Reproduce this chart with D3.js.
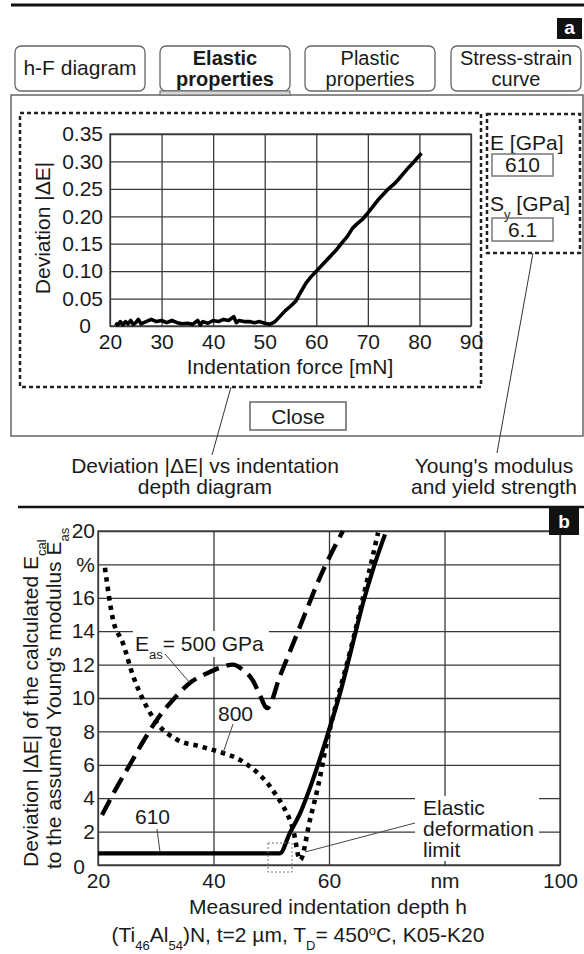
<!DOCTYPE html>
<html><head><meta charset="utf-8">
<script src="https://cdn.jsdelivr.net/npm/d3@7"></script>
<style>body{margin:0;background:#fff} text{font-family:"Liberation Sans",Arial,sans-serif;fill:#1a1a1a}</style>
</head><body><svg id="c" width="584" height="954"></svg>
<script>
// ---------- DATA ----------
// Panel a: deviation |ΔE| vs indentation force
const forceA = [21,21.5,22,22.5,23,23.5,24,24.5,25,25.5,26,27,28,29,30,31,32,33,34,35,36,37,37.5,38,39,40,41,42,43,44,44.5,45,46,47,48,49,50,51,52,53,54,55,56,57,58,59,60,61,62,63,64,65,66,67,68,69,70,71,72,73,74,75,76,77,78,79,80.4];
const devA   = [0.005,0.002,0.008,0.002,0.008,0.004,0.01,0.003,0.006,0.012,0.004,0.008,0.012,0.008,0.01,0.006,0.01,0.006,0.004,0.005,0.003,0.01,0.002,0.008,0.005,0.01,0.008,0.012,0.01,0.017,0.006,0.01,0.008,0.008,0.006,0.008,0.005,0.003,0.008,0.018,0.028,0.036,0.045,0.062,0.078,0.09,0.1,0.11,0.12,0.13,0.14,0.152,0.163,0.178,0.187,0.195,0.206,0.218,0.23,0.24,0.25,0.258,0.268,0.279,0.29,0.3,0.315];
const xTicksA = [20,30,40,50,60,70,80,90];
const yTicksA = [0,0.05,0.10,0.15,0.20,0.25,0.30,0.35];
const yTickLabelsA = ["0","0.05","0.10","0.15","0.20","0.25","0.30","0.35"];

// Panel b: deviation (%) vs measured indentation depth (nm)
const depth610 = [20,51.5,53.2,55,57.2,60.2,62,64,65.9,67.8,69.7];
const dev610   = [0.7,0.7,1.9,3.1,5.1,8.3,10.4,13.1,15.7,17.9,19.8];
const depth500 = [20.7,23,25.5,28,30.2,33,35.9,39,41,43.4,45,46.9,48,49.3,51.5,55,58.4,62.4];
const dev500   = [3.0,4.5,6.0,7.5,8.7,9.9,10.9,11.5,11.8,12.0,11.7,11.0,10.2,9.4,11.3,14.3,17.2,20];
const depth800 = [21.2,22.6,24.3,26.1,27.8,30.2,33.7,37.7,41.7,44,46.3,48,49.8,51,52.1,53.8,55,56.7,58.1,59.6,61.5,63.6,65.7,68.5];
const dev800   = [17.8,14.7,13.3,11.3,9.9,8.5,7.5,7.1,6.7,6.4,5.9,5.4,4.7,4.1,3.5,2.1,0.3,2.7,4.7,7.3,10,12.7,15.7,19.9];
const xTicksB = [20,40,60,80,100];
const xTickLabelsB = ["20","40","60","nm","100"];
const yTicksB = [0,2,4,6,8,10,12,14,16,18,20];
const yTickLabelsB = ["0","2","4","6","8","10","12","14","16","%","20"];

// ---------- DRAW ----------
const svg = d3.select("#c");
svg.append("rect").attr("width",584).attr("height",954).attr("fill","#fff");
const FS = 21;
function txt(x,y,s,opt={}){
  const t = svg.append("text").attr("x",x).attr("y",y).attr("font-size",opt.fs||FS)
    .attr("text-anchor",opt.anchor||"start");
  if(opt.bold) t.attr("font-weight","bold");
  if(opt.fill) t.style("fill",opt.fill);
  if(opt.rot) t.attr("transform",`rotate(${opt.rot},${x},${y})`);
  if(Array.isArray(s)){
    s.forEach(p=>{
      const ts=t.append("tspan").text(p.t);
      if(p.sub){ts.attr("font-size",(opt.fs||FS)*0.62).attr("baseline-shift","sub");}
      if(p.sup){ts.attr("font-size",(opt.fs||FS)*0.62).attr("baseline-shift","super");}
    });
  } else t.text(s);
  return t;
}
function line(x1,y1,x2,y2,w=1,c="#333",dash=null){
  const l=svg.append("line").attr("x1",x1).attr("y1",y1).attr("x2",x2).attr("y2",y2)
   .attr("stroke",c).attr("stroke-width",w);
  if(dash) l.attr("stroke-dasharray",dash);
  return l;
}
function rect(x,y,w,h,o={}){
  return svg.append("rect").attr("x",x).attr("y",y).attr("width",w).attr("height",h)
   .attr("fill",o.fill||"none").attr("stroke",o.stroke||"none").attr("stroke-width",o.sw||1)
   .attr("rx",o.rx||0).attr("stroke-dasharray",o.dash||null);
}

// ===== Panel a frame =====
line(11,5,584,5,3,"#111");
rect(557,18,25,21,{fill:"#111"});
txt(569.5,34,"a",{anchor:"middle",bold:true,fill:"#fff",fs:19});

const tabs=[{x:15,lines:["h-F diagram"]},{x:160,lines:["Elastic","properties"],bold:true},
            {x:305,lines:["Plastic","properties"]},{x:451,lines:["Stress-strain","curve"]}];
tabs.forEach(t=>{
  rect(t.x,46,130,45,{stroke:"#666",sw:1.3,rx:6,fill:"#fff"});
  if(t.lines.length===1) txt(t.x+65,75,t.lines[0],{anchor:"middle"});
  else { txt(t.x+65,65,t.lines[0],{anchor:"middle",bold:t.bold,fs:20}); txt(t.x+65,86,t.lines[1],{anchor:"middle",bold:t.bold,fs:20}); }
});
rect(11,95,572,341,{stroke:"#666",sw:1.5});
rect(160,91,130,4,{fill:"#d6d6d6",stroke:"#666",sw:1});

// chart a
const xA=d3.scaleLinear().domain([20,90]).range([110,471]);
const yA=d3.scaleLinear().domain([0,0.35]).range([326,134]);
function styleAxis(g){
  g.select(".domain").remove();
  g.selectAll(".tick line").attr("stroke","#3a3a3a").attr("stroke-width",1.3);
  g.selectAll("text").attr("font-size",FS).attr("font-family","Liberation Sans, Arial, sans-serif").style("fill","#1a1a1a");
  g.attr("font-size",null).attr("font-family",null);
}
svg.append("g").attr("transform","translate(0,326)")
  .call(d3.axisBottom(xA).tickValues(xTicksA).tickSize(-(326-134)).tickPadding(8).tickFormat(d3.format("d")))
  .call(styleAxis);
const gyA=svg.append("g").attr("transform","translate(110,0)")
  .call(d3.axisLeft(yA).tickValues(yTicksA).tickSize(-(471-110)).tickPadding(7).tickFormat((d,i)=>yTickLabelsA[i]))
  .call(styleAxis);
gyA.selectAll(".tick text").filter(d=>d===0).attr("dx",-12);
rect(110,134,361,192,{stroke:"#3a3a3a",sw:1.3});
svg.append("path").datum(forceA.map((f,i)=>[f,devA[i]]))
  .attr("d",d3.line().x(d=>xA(d[0])).y(d=>yA(d[1])))
  .attr("fill","none").attr("stroke","#000").attr("stroke-width",3.6).attr("stroke-linejoin","round");
txt(290,374,"Indentation force [mN]",{anchor:"middle"});
txt(50,228,"Deviation |ΔE|",{anchor:"middle",rot:-90});

rect(20,113,461,274,{stroke:"#222",sw:2.5,dash:"4,3"});
rect(487,114,93,139,{stroke:"#222",sw:2.5,dash:"4,3"});
txt(490,150,"E [GPa]");
rect(492,154,61,22,{stroke:"#777",sw:1.5});
txt(522.5,172,"610",{anchor:"middle"});
txt(490,211,[{t:"S"},{t:"y",sub:true},{t:" [GPa]"}]);
rect(492,218,61,23,{stroke:"#777",sw:1.5});
txt(522.5,237,"6.1",{anchor:"middle"});

rect(250,402,96,28,{stroke:"#666",sw:1.5});
txt(298,424,"Close",{anchor:"middle"});

line(231,387,212,455,1,"#333");
line(533,253,497,453,1,"#333");
txt(205,473,"Deviation |ΔE| vs indentation",{anchor:"middle"});
txt(205,494,"depth diagram",{anchor:"middle"});
txt(494,473,"Young's modulus",{anchor:"middle"});
txt(494,494,"and yield strength",{anchor:"middle"});

// ===== Panel b =====
line(18,507,584,507,2.5,"#111");
const xB=d3.scaleLinear().domain([20,100]).range([98,560]);
const yB=d3.scaleLinear().domain([0,20]).range([865,531]);
svg.append("g").attr("transform","translate(0,865)")
  .call(d3.axisBottom(xB).tickValues(xTicksB).tickSize(-(865-531)).tickPadding(8).tickFormat((d,i)=>xTickLabelsB[i]))
  .call(styleAxis);
const gy=svg.append("g").attr("transform","translate(98,0)")
  .call(d3.axisLeft(yB).tickValues(yTicksB).tickSize(-(560-98)).tickPadding(3).tickFormat((d,i)=>yTickLabelsB[i]))
  .call(styleAxis);
gy.selectAll(".tick text").filter(d=>d===0).attr("dx",-10).attr("dy","0.4em");
rect(98,531,462,334,{stroke:"#3a3a3a",sw:1.3});

// label backgrounds
rect(133,631,136,26,{fill:"#fff"});
rect(415,796,124,65,{fill:"#fff"});

svg.append("clipPath").attr("id","cb").append("rect").attr("x",98).attr("y",528).attr("width",462).attr("height",340);
const lineB=d3.line().x(d=>xB(d[0])).y(d=>yB(d[1])).curve(d3.curveMonotoneX);
function curve(xs,ys,w,dash){
  const p=svg.append("path").datum(xs.map((x,i)=>[x,ys[i]])).attr("d",lineB)
   .attr("fill","none").attr("stroke","#000").attr("stroke-width",w).attr("clip-path","url(#cb)");
  if(dash) p.attr("stroke-dasharray",dash);
}
curve(depth800,dev800,4.6,"4.5,5");
curve(depth500,dev500,4.4,"17,8");
curve(depth610,dev610,4.2,null);

rect(268,843,24,29,{stroke:"#777",sw:1,dash:"2,2"});

// annotations
txt(135,651,[{t:"E"},{t:"as",sub:true},{t:"= 500 GPa"}]);
line(165,654,190,683,1,"#444");
txt(218,721,"800");
line(233,724,223,753,1,"#444");
txt(135,824,"610");
line(157,829,160,852,1,"#444");
txt(423,815,"Elastic");
txt(423,836,"deformation");
txt(423,857,"limit");
line(415,823,305,852,1,"#444");

rect(549,507,30,28,{fill:"#111"});
txt(564,528,"b",{anchor:"middle",bold:true,fill:"#fff",fs:19});

txt(328,914,"Measured indentation depth h",{anchor:"middle"});
txt(38,867,[{t:"Deviation |ΔE| of the calculated E"},{t:"cal",sub:true}],{rot:-90});
txt(61,869,[{t:"to the assumed Young's modulus E"},{t:"as",sub:true}],{rot:-90});
txt(298,942,[{t:"(Ti"},{t:"46",sub:true},{t:"Al"},{t:"54",sub:true},{t:")N, t=2 µm, T"},{t:"D",sub:true},{t:"= 450"},{t:"o",sup:true},{t:"C, K05-K20"}],{anchor:"middle"});
</script></body></html>
